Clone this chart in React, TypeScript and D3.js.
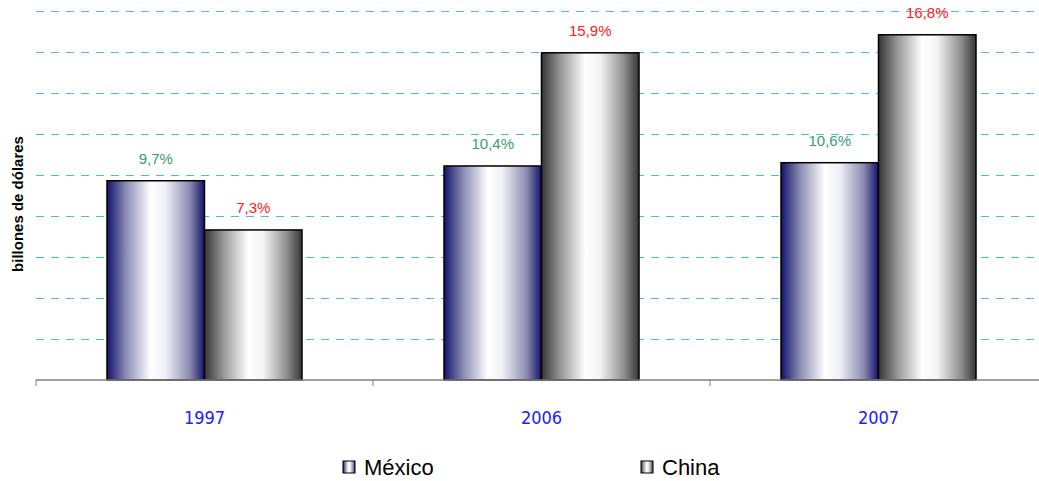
import React from "react";
import * as d3 from "d3";

const years = ["1997", "2006", "2007"];
const series = ["México", "China"];
const mexicoValues = [243, 261, 265];
const chinaValues = [183, 399, 421];
const mexicoLabels = ["9,7%", "10,4%", "10,6%"];
const chinaLabels = ["7,3%", "15,9%", "16,8%"];
const gridTicks = [50, 100, 150, 200, 250, 300, 350, 400, 450];

const W = 1039;
const H = 481;

const App = () => {
  const margin = { top: 11, left: 36, bottom: 380 };

  const x0 = d3.scaleBand<string>().domain(years).range([margin.left, 1047]);
  const x1 = d3.scaleBand<string>().domain(series).range([71, 266]);
  const y = d3.scaleLinear().domain([0, 450]).range([margin.bottom, margin.top]);

  const rows = years.map((yr, i) => ({
    year: yr,
    bars: [
      { name: series[0], value: mexicoValues[i], label: mexicoLabels[i], fill: "url(#gMex)", color: "#3d9b6c" },
      { name: series[1], value: chinaValues[i], label: chinaLabels[i], fill: "url(#gChn)", color: "#ff2020" },
    ],
  }));

  return (
    <svg width={W} height={H} style={{ position: "absolute", left: 0, top: 0 }}>
      <defs>
        <linearGradient id="gMex" x1="0" x2="1" y1="0" y2="0">
          <stop offset="0" stopColor="#12126a" />
          <stop offset="0.2" stopColor="#8e8eb5" />
          <stop offset="0.45" stopColor="#ffffff" />
          <stop offset="0.6" stopColor="#f0f0f6" />
          <stop offset="0.85" stopColor="#8a8ab0" />
          <stop offset="1" stopColor="#12126a" />
        </linearGradient>
        <linearGradient id="gChn" x1="0" x2="1" y1="0" y2="0">
          <stop offset="0" stopColor="#353535" />
          <stop offset="0.2" stopColor="#9a9a9a" />
          <stop offset="0.45" stopColor="#ffffff" />
          <stop offset="0.6" stopColor="#f4f4f4" />
          <stop offset="0.85" stopColor="#8c8c8c" />
          <stop offset="1" stopColor="#353535" />
        </linearGradient>
      </defs>

      {/* gridlines */}
      {gridTicks.map((t) => (
        <line
          key={t}
          x1={margin.left}
          x2={W}
          y1={y(t)}
          y2={y(t)}
          stroke="#40c4c4"
          strokeWidth={1}
          strokeDasharray="8,7"
          shapeRendering="crispEdges"
        />
      ))}

      {/* bars */}
      {rows.map((r) => (
        <g key={r.year} transform={`translate(${x0(r.year)},0)`}>
          {r.bars.map((b) => (
            <g key={b.name}>
              <rect
                x={x1(b.name)}
                y={y(b.value)}
                width={x1.bandwidth()}
                height={y(0) - y(b.value)}
                fill={b.fill}
                stroke="#000"
                strokeWidth={1.5}
              />
              <text
                x={(x1(b.name) || 0) + x1.bandwidth() / 2}
                y={y(b.value) - 17}
                textAnchor="middle"
                fontFamily="Liberation Sans, Arial, sans-serif"
                fontSize={15}
                fill={b.color}
              >
                {b.label}
              </text>
            </g>
          ))}
        </g>
      ))}

      {/* x axis */}
      <line x1={margin.left} x2={W} y1={y(0)} y2={y(0)} stroke="#808080" strokeWidth={1.5} />
      {years.map((yr) => (
        <g key={yr}>
          <line x1={x0(yr)} x2={x0(yr)} y1={y(0)} y2={y(0) + 6} stroke="#808080" strokeWidth={1} />
          <text
            x={(x0(yr) || 0) + x0.bandwidth() / 2}
            y={424}
            textAnchor="middle"
            fontFamily="DejaVu Sans Condensed, sans-serif"
            fontSize={18}
            fill="#2020ff"
          >
            {yr}
          </text>
        </g>
      ))}

      {/* y label */}
      <text
        transform={`translate(23,204) rotate(-90)`}
        textAnchor="middle"
        fontFamily="Liberation Sans, Arial, sans-serif"
        fontWeight="bold"
        fontSize={15}
        fill="#000"
      >
        billones de dólares
      </text>

      {/* legend */}
      {series.map((s, i) => {
        const lx = i === 0 ? 343 : 641;
        return (
          <g key={s}>
            <rect
              x={lx}
              y={461}
              width={12}
              height={12}
              fill={i === 0 ? "url(#gMex)" : "url(#gChn)"}
              stroke="#000"
              strokeWidth={1}
            />
            <text
              x={lx + 21}
              y={475}
              fontFamily="Liberation Sans, Arial, sans-serif"
              fontSize={22}
              fill="#000"
            >
              {s}
            </text>
          </g>
        );
      })}
    </svg>
  );
};

export default App;
